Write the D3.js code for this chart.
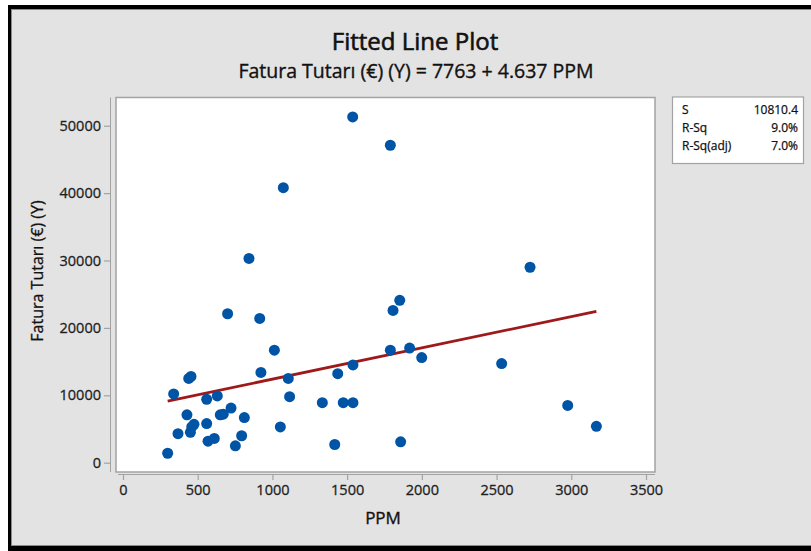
<!DOCTYPE html>
<html><head><meta charset="utf-8">
<script src="https://cdn.jsdelivr.net/npm/d3@7"></script>
<style>
html,body{margin:0;padding:0;background:#fff;}
svg{display:block;font-family:"Open Sans","Noto Sans",sans-serif;}
</style></head>
<body>
<svg id="c" width="811" height="551"></svg>
<script>
// ---- data ----
const ppm    = [1537,1073,843,1789,2724,700,915,1013,923,1106,1115,440,455,339,560,631,428,723,651,671,812,475,460,560,451,368,794,569,611,752,299,1053,1334,1474,1539,1437,1539,1417,1807,1852,1789,1918,1999,2534,2976,3168,1858];
const fatura = [51300,40800,30300,47100,29000,22100,21400,16700,13400,12500,9800,12500,12800,10200,9400,9900,7100,8100,7100,7200,6700,5700,5300,5800,4500,4300,4000,3200,3600,2500,1400,5300,8900,8900,8900,13200,14500,2700,22600,24100,16700,17000,15600,14700,8500,5400,3100];
const xTicks = [0,500,1000,1500,2000,2500,3000,3500];
const yTicks = [0,10000,20000,30000,40000,50000];
const fitIntercept = 7763;
const fitSlope = 4.637;
const statLabels = ["S","R-Sq","R-Sq(adj)"];
const statValues = ["10810.4","9.0%","7.0%"];
const titleText = "Fitted Line Plot";
const subtitleText = "Fatura Tutarı (€) (Y) = 7763 + 4.637 PPM";
const xLabel = "PPM";
const yLabel = "Fatura Tutarı (€) (Y)";

const svg = d3.select("#c");
// background + window borders
svg.append("rect").attr("x",0).attr("y",0).attr("width",811).attr("height",551).attr("fill","#ffffff");
svg.append("rect").attr("x",8).attr("y",5).attr("width",803).attr("height",546).attr("fill","#000");
svg.append("rect").attr("x",11).attr("y",9).attr("width",800).attr("height",537).attr("fill","#8a8a8a");
svg.append("rect").attr("x",12).attr("y",10).attr("width",799).attr("height",535).attr("fill","#e3e3e3");

const frame = {x0:116, x1:655, y0:97.5, y1:472};
const x = d3.scaleLinear().domain([0,3500]).range([123,646]);
const y = d3.scaleLinear().domain([0,50000]).range([462.7,125.7]);

// plot area
svg.append("rect").attr("x",frame.x0).attr("y",frame.y0)
  .attr("width",frame.x1-frame.x0).attr("height",frame.y1-frame.y0)
  .attr("fill","#fff").attr("stroke","#a3a3a3").attr("stroke-width",1.5);

// axes
const gx = svg.append("g").attr("transform",`translate(0,${frame.y1+2})`)
  .call(d3.axisBottom(x).tickValues(xTicks).tickSize(6).tickPadding(5).tickFormat(d3.format("d")));
const gy = svg.append("g").attr("transform",`translate(${frame.x0-6},0)`)
  .call(d3.axisLeft(y).tickValues(yTicks).tickSize(6).tickPadding(3).tickFormat(d3.format("d")));
[gx,gy].forEach(g=>{
  g.select(".domain").attr("stroke","#a3a3a3");
  g.selectAll(".tick line").attr("stroke","#a3a3a3").attr("stroke-width",1.2);
  g.selectAll(".tick text").attr("fill","#1f1f1f").attr("stroke","#1f1f1f").attr("stroke-width",0.3)
    .style("font-size","14.5px").style("font-family","'Open Sans',sans-serif");
});
gx.select(".domain").attr("d",`M${frame.x0+2},0.5H${frame.x1}`);
gy.select(".domain").attr("d",`M0.5,${frame.y0}V${frame.y1}`);

// fitted line
const xmin = d3.min(ppm), xmax = d3.max(ppm);
const fitPts = [xmin, xmax].map(v => [v, fitIntercept + fitSlope*v]);
svg.append("path").datum(fitPts)
  .attr("d", d3.line().x(d=>x(d[0])).y(d=>y(d[1])))
  .attr("fill","none").attr("stroke","#9e1a1a").attr("stroke-width",2.8);

// points
svg.append("g").selectAll("circle").data(ppm.map((p,i)=>[p,fatura[i]])).join("circle")
  .attr("cx",d=>x(d[0])).attr("cy",d=>y(d[1])).attr("r",5.5)
  .attr("fill","#0054a6");

// titles
function txt(xp, yp, s, size, sw, anchor){
  return svg.append("text").attr("x",xp).attr("y",yp).attr("text-anchor",anchor||"middle")
    .style("font-size",size+"px").attr("fill","#111").attr("stroke","#111").attr("stroke-width",sw).text(s);
}
txt(415, 50, titleText, 24, 0.6);
txt(416, 78, subtitleText, 19.5, 0.35);
txt(383, 524, xLabel, 17, 0.35);
svg.append("text").attr("transform","translate(43,271) rotate(-90)").attr("text-anchor","middle")
  .style("font-size","16px").attr("fill","#111").attr("stroke","#111").attr("stroke-width",0.3).text(yLabel);

// stats box
svg.append("rect").attr("x",672.5).attr("y",97).attr("width",131).attr("height",66.5)
  .attr("fill","#fff").attr("stroke","#a3a3a3").attr("stroke-width",1.2);
const rowY = [114,132,150];
statLabels.forEach((s,i)=>{
  txt(682, rowY[i], s, 12, 0.25, "start");
  txt(798, rowY[i], statValues[i], 12, 0.25, "end");
});
</script>
</body></html>
